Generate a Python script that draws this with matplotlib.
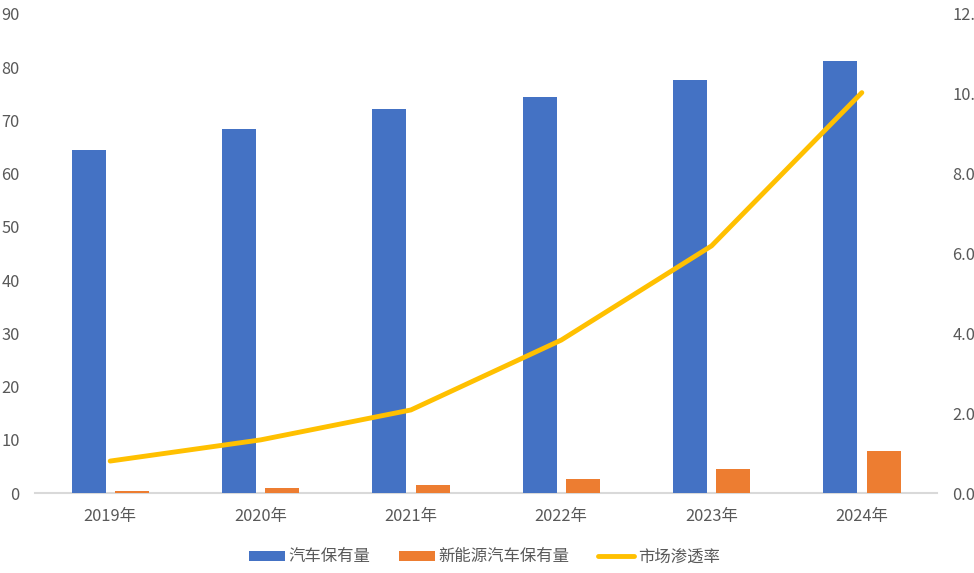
import matplotlib
matplotlib.use("Agg")
import matplotlib.pyplot as plt
import numpy as np
from matplotlib.patches import Patch
from matplotlib.lines import Line2D

plt.rcParams['font.family'] = ['Noto Sans CJK SC', 'DejaVu Sans']

years = ['2019年', '2020年', '2021年', '2022年', '2023年', '2024年']
cars = [64.5, 68.4, 72.2, 74.4, 77.6, 81.2]
nev = [0.45, 0.85, 1.45, 2.7, 4.55, 7.9]
rate = [0.80, 1.33, 2.08, 3.83, 6.19, 10.03]
left_ticks = [0, 10, 20, 30, 40, 50, 60, 70, 80, 90]
right_ticks = [0, 2, 4, 6, 8, 10, 12]

blue = '#4472C4'
orange = '#ED7D31'
gold = '#FFC000'
gray = '#595959'
fs = 11.8

fig = plt.figure(figsize=(9.74, 5.73), dpi=100)
ax = fig.add_axes([35/974, 1-493/573, (937-35)/974, (493-14)/573])
x = np.arange(len(years))
w = 0.226
ax.bar(x - 0.143, cars, width=w, color=blue, zorder=2)
ax.bar(x + 0.146, nev, width=w, color=orange, zorder=2)
ax.set_xlim(-0.5, len(years) - 0.5)
ax.set_ylim(0, 90)
ax.set_yticks(left_ticks)
ax.set_yticklabels([str(t) for t in left_ticks])
ax.set_xticks(x)
ax.set_xticklabels(years)
for s in ['top', 'right', 'left']:
    ax.spines[s].set_visible(False)
ax.spines['bottom'].set_color('#D9D9D9')
ax.spines['bottom'].set_linewidth(1.5)
ax.spines['bottom'].set_zorder(1)
ax.tick_params(axis='y', length=0, pad=11, labelsize=fs, labelcolor=gray)
ax.tick_params(axis='x', length=0, pad=11, labelsize=fs, labelcolor=gray)

ax2 = ax.twinx()
ax2.plot(x, rate, color=gold, linewidth=3.5, solid_capstyle='round', zorder=3)
ax2.set_ylim(0, 12)
ax2.set_yticks(right_ticks)
ax2.set_yticklabels(['%.2f%%' % t for t in right_ticks])
for s in ['top', 'right', 'left', 'bottom']:
    ax2.spines[s].set_visible(False)
ax2.tick_params(axis='y', length=0, pad=11, labelsize=fs, labelcolor=gray)

handles = [Patch(facecolor=blue, label='汽车保有量'),
           Patch(facecolor=orange, label='新能源汽车保有量'),
           Line2D([0], [0], color=gold, linewidth=3.5, solid_capstyle='round', label='市场渗透率')]
leg = fig.legend(handles=handles, loc='center', bbox_to_anchor=(0.497, 1-557/573), ncol=3,
                 frameon=False, fontsize=fs, handlelength=2.2, handleheight=0.55,
                 columnspacing=1.7, handletextpad=0.25)
for t in leg.get_texts():
    t.set_color(gray)

fig.savefig('out.png', dpi=100)
